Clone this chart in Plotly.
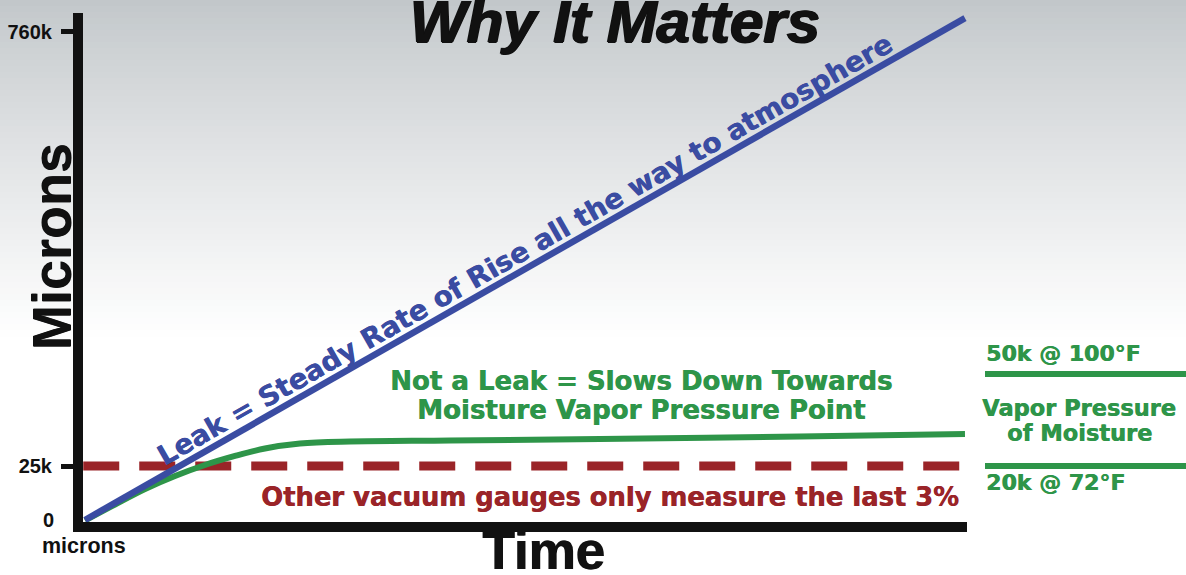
import plotly.graph_objects as go

# ---------------- data (schematic chart units) ----------------
# time axis: 0 .. 100 (arbitrary units), level axis: 0 .. 100 (schematic pressure level)
LEAK_TIME = [0, 100]
LEAK_LEVEL = [0.4, 99.0]

MOISTURE_TIME = [0, 3.41, 6.82, 10.23, 13.64, 17.05, 20.45, 24.43, 30.11, 41.48, 58.52, 81.25, 100]
MOISTURE_LEVEL = [0.3, 3.44, 6.48, 9.04, 11.2, 12.97, 14.44, 15.42, 15.82, 16.01, 16.31, 16.8, 17.29]

GAUGE_TIME = [-0.2, 100]
GAUGE_LEVEL = 11.0          # 25k microns

TICK_VALUES = [11.0, 96.3]
TICK_LABELS = ["25k", "760k"]

VAPOR_HIGH_LEVEL = 29.1     # 50k @ 100°F
VAPOR_LOW_LEVEL = 11.0      # 20k @ 72°F

# ---------------- style ----------------
W, H = 1186, 575
BLUE = "#3a4ca2"
GREEN = "#2e9549"
RED = "#9a2428"
BLACK = "#111111"
ARIAL = "Liberation Sans, Arial, sans-serif"
WIDE = "DejaVu Sans, Verdana, sans-serif"

PLOT_L, PLOT_R, PLOT_T, PLOT_B = 83, 967, 13, 522

def px_x(p):
    return p / W

def px_y(p):
    return 1 - p / H

fig = go.Figure()

fig.add_trace(go.Scatter(
    x=GAUGE_TIME, y=[GAUGE_LEVEL] * len(GAUGE_TIME), mode="lines",
    line=dict(color=RED, width=9, dash="36px,20px"), hoverinfo="skip"))
fig.add_trace(go.Scatter(
    x=MOISTURE_TIME, y=MOISTURE_LEVEL, mode="lines",
    line=dict(color=GREEN, width=6, shape="spline", smoothing=1.0), hoverinfo="skip"))
fig.add_trace(go.Scatter(
    x=LEAK_TIME, y=LEAK_LEVEL, mode="lines",
    line=dict(color=BLUE, width=6.5), hoverinfo="skip"))

# ---------------- background gradient (decoration) ----------------
shapes = []
band_h = 6
top_rgb = (194, 199, 202)
for i in range(0, 336, band_h):
    f = min(1.0, (i / 336) ** 0.85)
    c = tuple(int(round(t + (255 - t) * f)) for t in top_rgb)
    shapes.append(dict(type="rect", xref="paper", yref="paper", layer="below",
                       x0=0, x1=1, y0=px_y(i + band_h + 1), y1=px_y(i),
                       fillcolor="rgb(%d,%d,%d)" % c, line=dict(width=0)))

# right-side vapor pressure bounds
for lvl in (VAPOR_HIGH_LEVEL, VAPOR_LOW_LEVEL):
    shapes.append(dict(type="line", xref="paper", yref="y",
                       x0=px_x(985), x1=1.0, y0=lvl, y1=lvl,
                       line=dict(color=GREEN, width=6)))

ann = []
def add_text(text, x, y, size, color, family=ARIAL, xref="paper", yref="paper",
             xanchor="center", yanchor="middle", angle=0, shadow=None):
    f = dict(size=size, color=color, family=family)
    if shadow:
        f["shadow"] = shadow
    ann.append(dict(text=text, x=x, y=y, xref=xref, yref=yref, showarrow=False,
                    xanchor=xanchor, yanchor=yanchor, textangle=angle, font=f))

def heavy(col, d=0.6):
    return "%.1fpx 0px 0px %s" % (d, col)

HEAVY = "1px 0px 0px #111, -1px 0px 0px #111, 0px 1px 0px #111"
add_text("<b><i>Why It Matters</i></b>", px_x(615), px_y(22), 60, BLACK, shadow=HEAVY)
add_text("<b>Microns</b>", px_x(51), px_y(247), 54, BLACK, angle=-90, shadow="0px 1px 0px #111")
add_text("<b>Time</b>", px_x(543), px_y(550), 53, BLACK, shadow="1px 0px 0px #111")
add_text("<b>0</b>", px_x(41), px_y(520), 20, BLACK, xanchor="left")
add_text("<b>microns</b>", px_x(40), px_y(546), 21.5, BLACK, xanchor="left")

add_text("<b>Leak = Steady Rate of Rise all the way to atmosphere</b>",
         50.0, 53.6, 27.7, BLUE, family=WIDE, xref="x", yref="y", angle=-29.7,
         shadow=heavy(BLUE))
add_text("<b>Not a Leak = Slows Down Towards</b>", px_x(641), px_y(381), 26, GREEN,
         family=WIDE, shadow=heavy(GREEN))
add_text("<b>Moisture Vapor Pressure Point</b>", px_x(641), px_y(410), 26, GREEN,
         family=WIDE, shadow=heavy(GREEN))
add_text("<b>Other vacuum gauges only measure the last 3%</b>", px_x(610), px_y(497), 25.8, RED,
         family=WIDE, shadow=heavy(RED))

add_text("<b>50k @ 100°F</b>", px_x(984), px_y(353), 22, GREEN, family=WIDE, xanchor="left",
         shadow=heavy(GREEN))
add_text("<b>Vapor Pressure</b>", px_x(1079), px_y(408), 22.5, GREEN, family=WIDE,
         shadow=heavy(GREEN))
add_text("<b>of Moisture</b>", px_x(1079), px_y(433), 22.5, GREEN, family=WIDE,
         shadow=heavy(GREEN))
add_text("<b>20k @ 72°F</b>", px_x(984), px_y(482), 22, GREEN, family=WIDE, xanchor="left",
         shadow=heavy(GREEN))

fig.update_layout(
    width=W, height=H,
    margin=dict(l=0, r=0, t=0, b=0),
    paper_bgcolor="white", plot_bgcolor="rgba(0,0,0,0)",
    showlegend=False,
    shapes=shapes, annotations=ann,
    xaxis=dict(domain=[px_x(PLOT_L), px_x(PLOT_R)],
               range=[-0.227, 100.23], showline=True, linewidth=10, linecolor=BLACK,
               showgrid=False, zeroline=False, showticklabels=False, ticks="",
               automargin=False, fixedrange=True),
    yaxis=dict(domain=[px_y(PLOT_B), px_y(PLOT_T)],
               range=[0, 100], showline=True, linewidth=10, linecolor=BLACK,
               showgrid=False, zeroline=False,
               tickvals=TICK_VALUES, ticktext=TICK_LABELS,
               ticks="outside", ticklen=12, tickwidth=5, tickcolor=BLACK,
               ticklabelstandoff=5,
               tickfont=dict(size=20, color=BLACK, family=ARIAL, weight="bold"),
               automargin=False, fixedrange=True),
)

fig.write_html("out.html", config={"displayModeBar": False},
               post_script="document.body.style.margin='0px';document.body.style.overflow='hidden';")
